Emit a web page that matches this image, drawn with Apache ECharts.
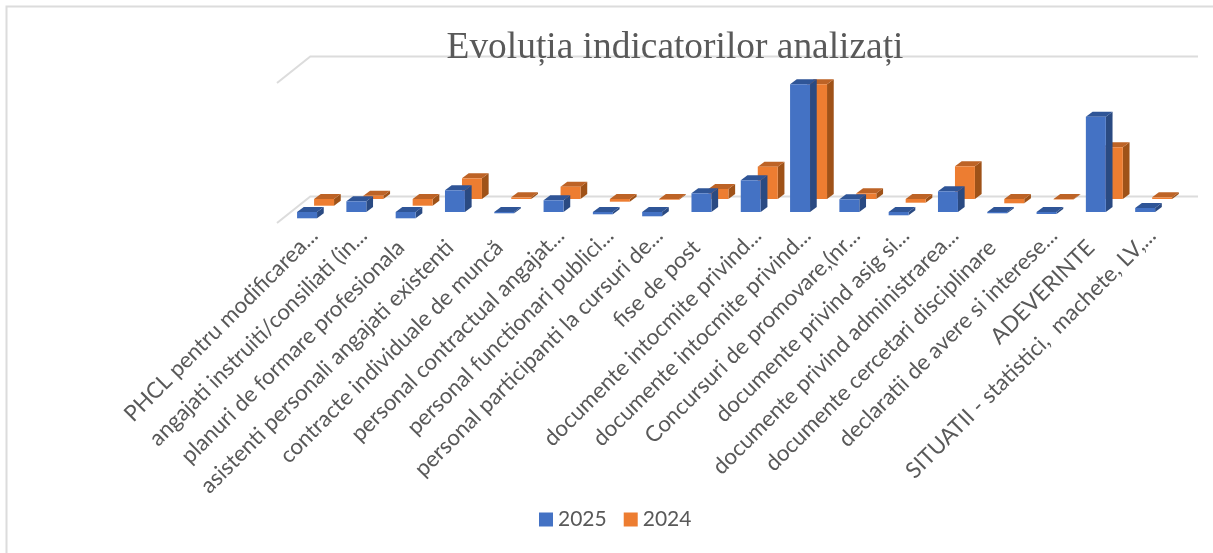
<!DOCTYPE html>
<html>
<head>
<meta charset="utf-8">
<title>Evoluția indicatorilor analizați</title>
<script src="https://cdn.jsdelivr.net/npm/echarts@6/dist/echarts.min.js"></script>
<style>
  html, body { margin: 0; padding: 0; background: #fff; }
  #main { width: 1213px; height: 553px; }
</style>
</head>
<body>
<div id="main"></div>
<script>
const categories = [
  "PHCL pentru modificarea...",
  "angajati instruiti/consiliati (in...",
  "planuri de formare profesionala",
  "asistenti personali angajati existenti",
  "contracte individuale de muncă",
  "personal contractual angajat...",
  "personal functionari publici...",
  "personal participanti la cursuri de...",
  "fise de post",
  "documente intocmite privind...",
  "documente intocmite privind...",
  "Concursuri de promovare,(nr...",
  "documente privind asig si...",
  "documente privind administrarea...",
  "documente cercetari disciplinare",
  "declaratii de avere si interese...",
  "ADEVERINTE",
  "SITUATII - statistici,  machete, LV,..."
];
// axa nu are etichete
const values2025 = [-6.3, 10.7, -6.3, 21.7, -1.3, 11.7, -2.3, -4.3, 18.7, 31.7, 127.7, 12.7, -3.3, 20.7, -1.3, -2, 95.3, 4];
const values2024 = [-6.7, 3.3, -6.7, 20.7, 1.7, 12.3, -2.7, -0.7, 10, 32.3, 114.7, 5.7, -3.7, 32.7, -4.3, -0.5, 51.7, 1.7];
const wallLevels = [-11, 129];

const depthX = 6.7, depthY = 5;
const labelFont = { fontFamily: 'Lato', fontSize: 22.3, color: '#595959' };

function barRenderer(shiftX, shiftY, front, top, side) {
  return function (params, api) {
    const i = api.value(0);
    const base = api.coord([i, 0]);
    const end = api.coord([i, api.value(1)]);
    const w = api.size([1, 0])[0] * 0.405;
    const x0 = base[0] + shiftX - w / 2;
    const x1 = x0 + w;
    const yTop = Math.min(base[1], end[1]) + shiftY;
    const yBot = Math.max(base[1], end[1]) + shiftY;
    return {
      type: 'group',
      children: [
        { type: 'polygon', shape: { points: [[x1, yTop], [x1 + depthX, yTop - depthY], [x1 + depthX, yBot - depthY], [x1, yBot]] }, style: { fill: side } },
        { type: 'polygon', shape: { points: [[x0, yTop], [x0 + depthX, yTop - depthY], [x1 + depthX, yTop - depthY], [x1, yTop]] }, style: { fill: top } },
        { type: 'rect', shape: { x: x0, y: yTop, width: w, height: yBot - yTop }, style: { fill: front } }
      ]
    };
  };
}

function wallRenderer(params, api) {
  const y = api.coord([0, api.value(0)])[1];
  const left = params.coordSys.x - 12.4;
  return {
    type: 'polyline',
    shape: { points: [[left, y], [left + 33.3, y - 26.5], [left + 921, y - 26.5]] },
    style: { fill: null, stroke: '#dcdcdc', lineWidth: 2 }
  };
}

const chart = echarts.init(document.getElementById('main'));
chart.setOption({
  animation: false,
  backgroundColor: '#fff',
  graphic: [{
    type: 'polyline',
    silent: true,
    shape: { points: [[6.5, 553], [6.5, 6.5], [1213, 6.5]] },
    style: { fill: null, stroke: '#dcdcdc', lineWidth: 2 }
  }],
  title: {
    text: 'Evoluția indicatorilor analizați',
    left: 670,
    top: 25,
    textAlign: 'center',
    textStyle: { fontFamily: 'Liberation Serif', fontSize: 37.4, fontWeight: 'normal', color: '#595959' }
  },
  legend: {
    left: 534,
    top: 504,
    data: ['2025', '2024'],
    icon: 'rect',
    itemWidth: 14,
    itemHeight: 14,
    itemGap: 17,
    textStyle: { fontFamily: 'Lato', fontSize: 21, color: '#595959' }
  },
  grid: { left: 289.4, width: 887.4, top: 82, height: 140 },
  xAxis: {
    type: 'category',
    data: categories,
    axisLine: { show: false },
    axisTick: { show: false },
    axisLabel: Object.assign({
      interval: 0,
      rotate: 45,
      margin: 10,
      // etichetele netrunchiate stau mai jos pe diagonala
      formatter: v => v.endsWith('...') ? v : '{full|' + v + '}',
      rich: { full: Object.assign({ padding: [0, 17, 0, 0] }, labelFont) }
    }, labelFont)
  },
  yAxis: { type: 'value', min: -10, max: 130, show: false },
  series: [
    {
      name: 'walls', type: 'custom', z: 1, silent: true,
      coordinateSystem: 'cartesian2d',
      encode: { y: 0 },
      data: wallLevels.map(v => [v]),
      renderItem: wallRenderer
    },
    {
      name: '2024', type: 'custom', z: 2,
      itemStyle: { color: '#ed7d31' },
      encode: { x: 0, y: 1 },
      data: values2024.map((v, i) => [i, v]),
      renderItem: barRenderer(10, -13, '#ed7d31', '#bd6326', '#9f5218')
    },
    {
      name: '2025', type: 'custom', z: 3,
      itemStyle: { color: '#4472c4' },
      encode: { x: 0, y: 1 },
      data: values2025.map((v, i) => [i, v]),
      renderItem: barRenderer(-7, 0, '#4472c4', '#2f5597', '#2a4a82')
    }
  ]
});
window.addEventListener('resize', () => chart.resize());
</script>
</body>
</html>
